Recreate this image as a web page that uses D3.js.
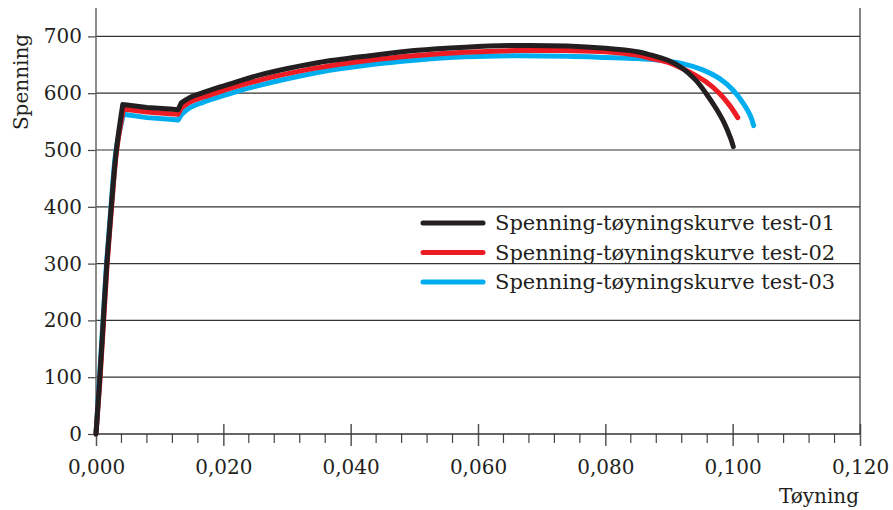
<!DOCTYPE html>
<html>
<head>
<meta charset="utf-8">
<script src="https://cdn.jsdelivr.net/npm/d3@7"></script>
<style>
  body { margin: 0; background: #fff; }
  svg { display: block; font-family: "DejaVu Serif", serif; }
</style>
</head>
<body>
<div id="chart"></div>
<script>
// Stress-strain data, [strain, stress]
const test01 = [
  [0, 0], [0.0006, 100], [0.00115, 200], [0.0017, 300], [0.0024, 400], [0.0032, 500], [0.0042, 580],
  [0.008, 575], [0.0116, 572], [0.0129, 571], [0.0134, 583], [0.0147, 592], [0.0168, 601], [0.0195, 611],
  [0.0221, 620], [0.0247, 629], [0.0283, 639], [0.035, 654], [0.043, 666], [0.05, 675], [0.058, 681],
  [0.066, 684], [0.074, 683], [0.08, 679], [0.085, 673], [0.0869, 668], [0.09, 657], [0.0921, 644],
  [0.0942, 623], [0.0958, 600], [0.0974, 573], [0.0987, 547], [0.0997, 520], [0.1001, 506]
];
const test02 = [
  [0, 0], [0.00065, 100], [0.0012, 200], [0.00175, 300], [0.00245, 400], [0.00325, 500], [0.0043, 572],
  [0.008, 567], [0.0116, 564], [0.0129, 563], [0.0134, 574], [0.0147, 584], [0.0168, 593], [0.0195, 603],
  [0.0221, 612], [0.0247, 620], [0.0283, 630], [0.035, 645], [0.043, 658], [0.05, 666], [0.058, 672],
  [0.066, 675], [0.074, 675], [0.08, 673], [0.085, 667], [0.0869, 662], [0.09, 654], [0.0931, 638],
  [0.0958, 620], [0.0979, 600], [0.0995, 579], [0.1008, 557]
];
const test03 = [
  [0, 0], [0.00055, 100], [0.0011, 200], [0.00165, 300], [0.00235, 400], [0.00315, 500], [0.0043, 563],
  [0.008, 557], [0.0116, 554], [0.0129, 553], [0.0134, 562], [0.0147, 574], [0.0168, 584], [0.0195, 594],
  [0.0221, 603], [0.0247, 611], [0.0283, 621], [0.035, 637], [0.043, 650], [0.05, 658], [0.058, 664],
  [0.066, 666], [0.074, 665], [0.08, 663], [0.085, 661], [0.0885, 658], [0.0921, 652], [0.0953, 641],
  [0.0979, 626], [0.1, 606], [0.1018, 580], [0.1028, 560], [0.1033, 543]
];
const seriesNames = ["Spenning-tøyningskurve test-01", "Spenning-tøyningskurve test-02", "Spenning-tøyningskurve test-03"];
const seriesColors = ["#231f20", "#ed1c24", "#00aeef"];
const xTicks = [0, 0.02, 0.04, 0.06, 0.08, 0.1, 0.12];
const yTicks = [0, 100, 200, 300, 400, 500, 600, 700];

const width = 893, height = 510;
const plotLeft = 96, plotRight = 860, plotTop = 8, plotBottom = 434;

const svg = d3.select("#chart").append("svg")
  .attr("width", width)
  .attr("height", height);

const x = d3.scaleLinear().domain([0, 0.12]).range([plotLeft, plotRight]);
const y = d3.scaleLinear().domain([0, 750]).range([plotBottom, plotTop]);

// horizontal grid lines
svg.append("g")
  .selectAll("line")
  .data(yTicks.filter(d => d > 0))
  .enter()
  .append("line")
  .attr("x1", plotLeft).attr("x2", plotRight)
  .attr("y1", d => y(d)).attr("y2", d => y(d))
  .attr("stroke", "#333").attr("stroke-width", 1.2);

// y axis
const yAxis = svg.append("g")
  .attr("transform", `translate(${plotLeft},0)`)
  .call(d3.axisLeft(y).tickValues(yTicks).tickSize(8).tickPadding(6));
yAxis.select(".domain").remove();
yAxis.selectAll(".tick line").attr("stroke", "#444").attr("stroke-width", 1.2);
yAxis.selectAll(".tick text")
  .attr("font-family", "DejaVu Serif").attr("font-size", 20).attr("fill", "#231f20");

// x axis: major ticks cross the axis, minor ticks below
const minorTicks = d3.range(0, 0.1201, 0.004).filter(d => Math.abs(d / 0.02 - Math.round(d / 0.02)) > 1e-6);
svg.append("g")
  .selectAll("line")
  .data(minorTicks)
  .enter()
  .append("line")
  .attr("x1", d => x(d)).attr("x2", d => x(d))
  .attr("y1", plotBottom).attr("y2", plotBottom + 9)
  .attr("stroke", "#444").attr("stroke-width", 1.2);

const xAxis = svg.append("g")
  .attr("transform", `translate(0,${plotBottom})`)
  .call(d3.axisBottom(x).tickValues(xTicks).tickSize(12).tickPadding(14)
    .tickFormat(d => d3.format(".3f")(d).replace(".", ",")));
xAxis.select(".domain").remove();
xAxis.selectAll(".tick line").attr("y1", -10).attr("stroke", "#555").attr("stroke-width", 1.5);
xAxis.selectAll(".tick text")
  .attr("font-family", "DejaVu Serif").attr("font-size", 20).attr("fill", "#231f20");

// frame lines
svg.append("line").attr("x1", plotLeft).attr("x2", plotLeft).attr("y1", plotTop).attr("y2", plotBottom)
  .attr("stroke", "#666").attr("stroke-width", 1.5);
svg.append("line").attr("x1", plotRight).attr("x2", plotRight).attr("y1", plotTop).attr("y2", plotBottom)
  .attr("stroke", "#333").attr("stroke-width", 1.2);
svg.append("line").attr("x1", plotLeft).attr("x2", plotRight).attr("y1", plotBottom).attr("y2", plotBottom)
  .attr("stroke", "#333").attr("stroke-width", 1.5);

// curves: smooth elastic rise, straight yield plateau, smooth hardening part
const straight = d3.line()
  .x(d => x(d[0]))
  .y(d => y(d[1]));
const smooth = d3.line()
  .x(d => x(d[0]))
  .y(d => y(d[1]))
  .curve(d3.curveCatmullRom.alpha(0.5));

function curvePath(data) {
  const early = data.slice(0, 8);
  const peak = early.indexOf(d3.greatest(early, d => d[1]));
  const kink = data.findIndex(d => d[0] >= 0.0134);
  return smooth(data.slice(0, peak + 1)) +
    straight(data.slice(peak, kink + 1)) +
    smooth(data.slice(kink));
}

const allSeries = [test01, test02, test03];
[2, 1, 0].forEach(i => {
  svg.append("path")
    .attr("d", curvePath(allSeries[i]))
    .attr("fill", "none")
    .attr("stroke", seriesColors[i])
    .attr("stroke-width", 5)
    .attr("stroke-linecap", "round")
    .attr("stroke-linejoin", "round");
});

// legend
const legend = svg.append("g").attr("transform", "translate(423,223)");
seriesNames.forEach((name, i) => {
  const row = legend.append("g").attr("transform", `translate(0,${i * 29.5})`);
  row.append("line")
    .attr("x1", 0).attr("x2", 60)
    .attr("stroke", seriesColors[i]).attr("stroke-width", 5)
    .attr("stroke-linecap", "round");
  row.append("text")
    .attr("x", 72).attr("y", 7)
    .attr("font-size", 21)
    .attr("fill", "#231f20")
    .text(name);
});

// axis titles
svg.append("text")
  .attr("transform", "translate(28,82) rotate(-90)")
  .attr("text-anchor", "middle")
  .attr("font-size", 20)
  .attr("fill", "#231f20")
  .text("Spenning");

svg.append("text")
  .attr("x", 859).attr("y", 503)
  .attr("text-anchor", "end")
  .attr("font-size", 20)
  .attr("fill", "#231f20")
  .text("Tøyning");
</script>
</body>
</html>
